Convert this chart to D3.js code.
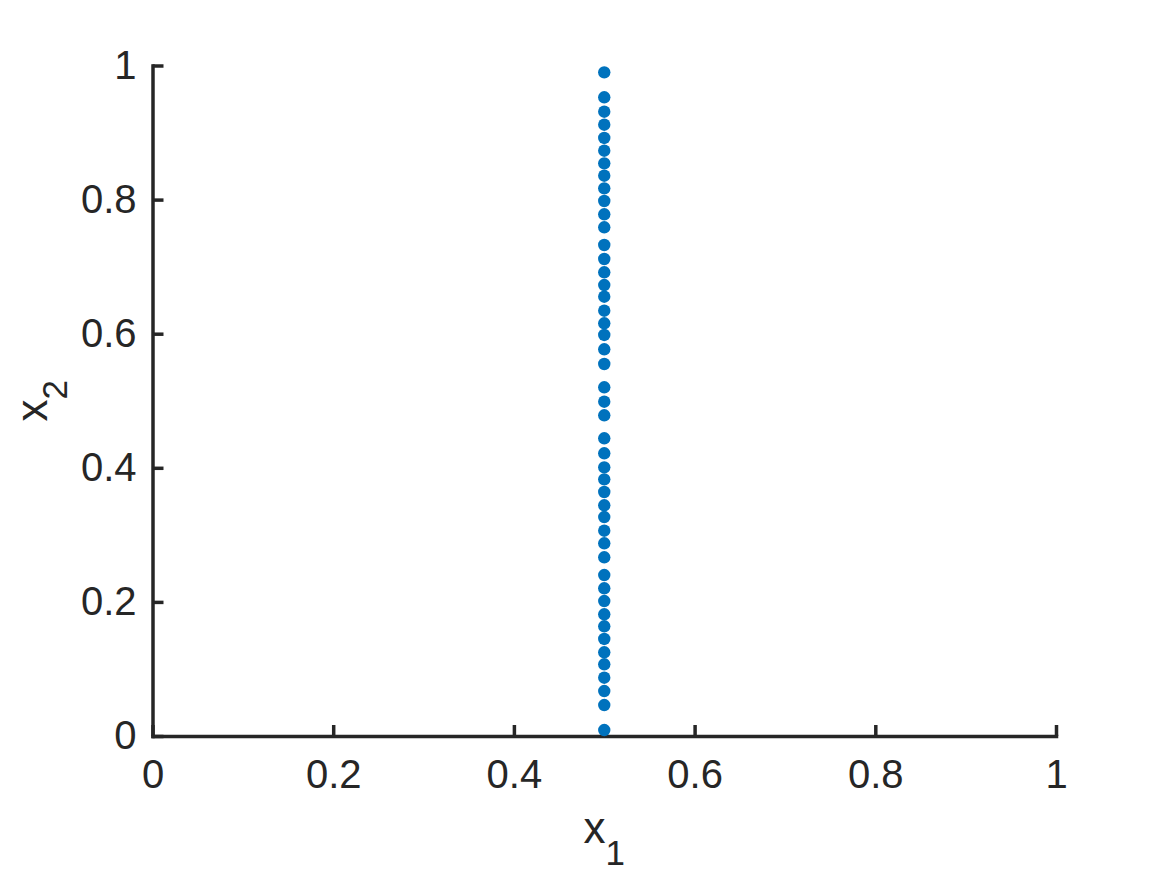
<!DOCTYPE html>
<html>
<head>
<meta charset="utf-8">
<script src="https://cdn.jsdelivr.net/npm/d3@7"></script>
<style>
  html, body { margin: 0; padding: 0; background: #fff; }
  svg { display: block; }
</style>
</head>
<body>
<svg id="chart" width="1167" height="875"></svg>
<script>
// Data: all points share x1 = 0.5
const x1Values = new Array(47).fill(0.5);
const x2Values = [
  0.9898, 0.9526, 0.9311, 0.9117, 0.8919, 0.8729, 0.8541, 0.8356, 0.8168, 0.7979,
  0.7781, 0.7587, 0.7323, 0.7114, 0.6916, 0.6726, 0.6552, 0.6343, 0.6155, 0.5981,
  0.5767, 0.5548, 0.5201, 0.4986, 0.4783, 0.4440, 0.4216, 0.4007, 0.3828, 0.3639,
  0.3441, 0.3266, 0.3062, 0.2874, 0.2665, 0.2401, 0.2203, 0.2013, 0.1815, 0.1636,
  0.1447, 0.1248, 0.1069, 0.0869, 0.0671, 0.0462, 0.0089
];
const xTicks = [0, 0.2, 0.4, 0.6, 0.8, 1];
const yTicks = [0, 0.2, 0.4, 0.6, 0.8, 1];
const xTickLabels = ["0", "0.2", "0.4", "0.6", "0.8", "1"];
const yTickLabels = ["0", "0.2", "0.4", "0.6", "0.8", "1"];

const svg = d3.select("#chart");
const axisColor = "#262626";
const fontFamily = "'Liberation Sans', Arial, Helvetica, sans-serif";

const x = d3.scaleLinear().domain([0, 1]).range([152.5, 1056]);
const y = d3.scaleLinear().domain([0, 1]).range([736, 65.5]);

// X axis
const gx = svg.append("g")
  .attr("transform", `translate(0,${y(0)})`)
  .call(d3.axisBottom(x)
    .tickValues(xTicks)
    .tickFormat((d, i) => xTickLabels[i])
    .tickSizeInner(-11)
    .tickSizeOuter(0)
    .tickPadding(24));

// Y axis
const gy = svg.append("g")
  .attr("transform", `translate(${x(0)},0)`)
  .call(d3.axisLeft(y)
    .tickValues(yTicks)
    .tickFormat((d, i) => yTickLabels[i])
    .tickSizeInner(-11)
    .tickSizeOuter(0)
    .tickPadding(16));

[gx, gy].forEach(g => {
  g.select(".domain").attr("stroke", axisColor).attr("stroke-width", 3.5).attr("stroke-linecap", "square");
  g.selectAll(".tick line").attr("stroke", axisColor).attr("stroke-width", 3.5);
  g.selectAll(".tick text")
    .attr("fill", axisColor)
    .style("font-family", fontFamily)
    .style("font-size", "40px");
});

// Points
svg.append("g")
  .selectAll("circle")
  .data(x2Values)
  .join("circle")
  .attr("cx", (d, i) => x(x1Values[i]))
  .attr("cy", d => y(d))
  .attr("r", 6.2)
  .attr("fill", "#0072BD");

// X label: x_1
const xl = svg.append("text")
  .attr("x", (x(0) + x(1)) / 2)
  .attr("y", 843)
  .attr("text-anchor", "middle")
  .attr("fill", axisColor)
  .style("font-family", fontFamily)
  .style("font-size", "44px");
xl.append("tspan").text("x");
xl.append("tspan").attr("dy", 22).style("font-size", "35px").text("1");

// Y label: x_2 (rotated)
const yl = svg.append("text")
  .attr("transform", `translate(47,${(y(0) + y(1)) / 2}) rotate(-90)`)
  .attr("text-anchor", "middle")
  .attr("fill", axisColor)
  .style("font-family", fontFamily)
  .style("font-size", "44px");
yl.append("tspan").text("x");
yl.append("tspan").attr("dy", 20).style("font-size", "35px").text("2");
</script>
</body>
</html>
